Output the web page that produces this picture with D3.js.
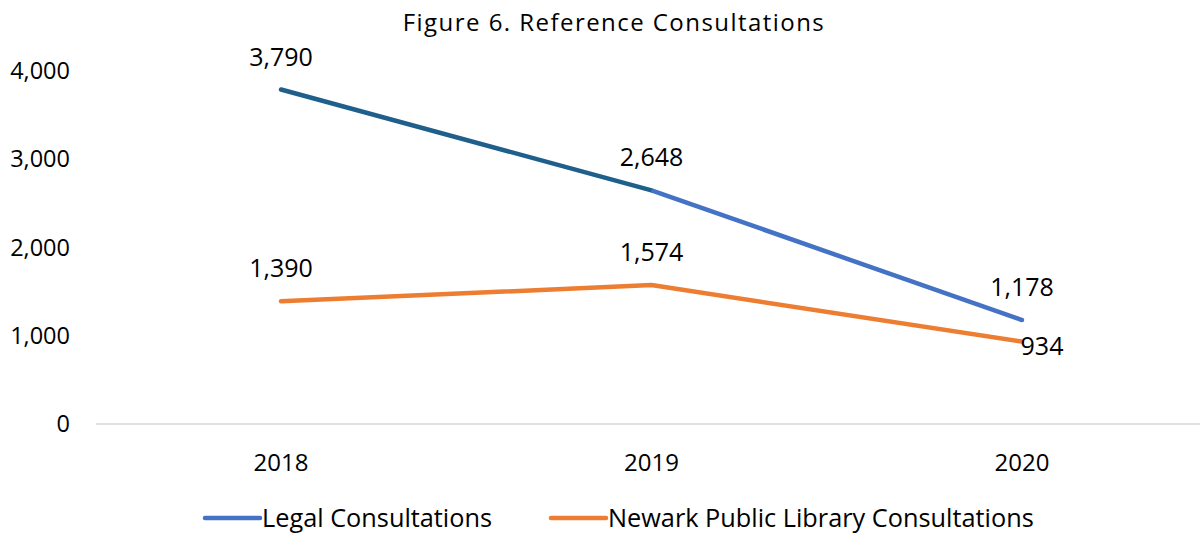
<!DOCTYPE html>
<html>
<head>
<meta charset="utf-8">
<script src="https://cdn.jsdelivr.net/npm/d3@7"></script>
<style>
  body { margin: 0; background: #fff; }
  text { font-family: "Open Sans", "Noto Sans", sans-serif; fill: #000; }
</style>
</head>
<body>
<div class="chart"></div>
<script>
var years = ["2018", "2019", "2020"];
var legalValues = [3790, 2648, 1178];
var libraryValues = [1390, 1574, 934];
var yTicks = [0, 1000, 2000, 3000, 4000];
var seriesNames = ["Legal Consultations", "Newark Public Library Consultations"];

var width = 1201,
    height = 533;

var svg = d3.select(".chart").append("svg")
    .attr("width", width)
    .attr("height", height);

var x = d3.scalePoint()
    .domain(years)
    .range([281, 1022]);

var y = d3.scaleLinear()
    .domain([0, 4000])
    .range([424, 71]);

// title
svg.append("text")
  .attr("x", 614)
  .attr("y", 31)
  .attr("text-anchor", "middle")
  .style("font-size", "24px")
  .style("letter-spacing", "1.45px")
  .text("Figure 6. Reference Consultations");

// y axis labels
svg.selectAll(".ytick")
  .data(yTicks)
  .enter().append("text")
  .attr("class", "ytick")
  .attr("x", 70)
  .attr("y", function(d) { return y(d); })
  .attr("dy", "0.35em")
  .attr("text-anchor", "end")
  .style("font-size", "23.5px")
  .text(d3.format(","));

// baseline
svg.append("line")
  .attr("x1", 96).attr("x2", 1200)
  .attr("y1", y(0)).attr("y2", y(0))
  .attr("stroke", "#d9d9d9")
  .attr("stroke-width", 1.5);

// x labels
svg.selectAll(".xtick")
  .data(years)
  .enter().append("text")
  .attr("class", "xtick")
  .attr("x", function(d) { return x(d); })
  .attr("y", 471)
  .attr("text-anchor", "middle")
  .style("font-size", "24px")
  .text(function(d) { return d; });

var line = d3.line()
  .x(function(d) { return x(d.year); })
  .y(function(d) { return y(d.value); });

function pts(vals) {
  return years.map(function(yr, i) { return {year: yr, value: vals[i]}; });
}

// library line
svg.append("path")
  .attr("d", line(pts(libraryValues)))
  .attr("fill", "none")
  .attr("stroke", "#ed7d31")
  .attr("stroke-width", 4.5)
  .attr("stroke-linecap", "round")
  .attr("stroke-linejoin", "round");

// legal line, first segment is darker in the original
var legalPts = pts(legalValues);
var segColors = ["#1f5f8b", "#4472c4"];
for (var i = 0; i < legalPts.length - 1; i++) {
  svg.append("path")
    .attr("d", line([legalPts[i], legalPts[i + 1]]))
    .attr("fill", "none")
    .attr("stroke", segColors[i])
    .attr("stroke-width", 4.5)
    .attr("stroke-linecap", i == 0 ? "round" : "butt");
}
// round end cap on last point
svg.append("circle")
  .attr("cx", x(years[2])).attr("cy", y(legalValues[2]))
  .attr("r", 2.25).attr("fill", "#4472c4");

// data labels
var fmt = d3.format(",");
svg.selectAll(".lab-legal")
  .data(legalPts)
  .enter().append("text")
  .attr("x", function(d) { return x(d.year); })
  .attr("y", function(d) { return y(d.value) - 24; })
  .attr("text-anchor", "middle")
  .style("font-size", "25px")
  .text(function(d) { return fmt(d.value); });

var libPts = pts(libraryValues);
svg.selectAll(".lab-lib")
  .data(libPts)
  .enter().append("text")
  .attr("x", function(d, i) { return x(d.year) + (i == 2 ? 20 : 0); })
  .attr("y", function(d, i) { return i == 2 ? y(d.value) + 13 : y(d.value) - 24; })
  .attr("text-anchor", "middle")
  .style("font-size", "25px")
  .text(function(d) { return fmt(d.value); });

// legend
var legendX = [203, 549];
var legendColors = ["#4472c4", "#ed7d31"];
var legend = svg.selectAll(".legend")
  .data(seriesNames)
  .enter().append("g")
  .attr("transform", function(d, i) { return "translate(" + legendX[i] + ",518)"; });

legend.append("line")
  .attr("x1", 2).attr("x2", 57)
  .attr("stroke", function(d, i) { return legendColors[i]; })
  .attr("stroke-width", 4.5)
  .attr("stroke-linecap", "round");

legend.append("text")
  .attr("x", 59)
  .attr("dy", "0.35em")
  .style("font-size", "25.3px")
  .text(function(d) { return d; });
</script>
</body>
</html>
